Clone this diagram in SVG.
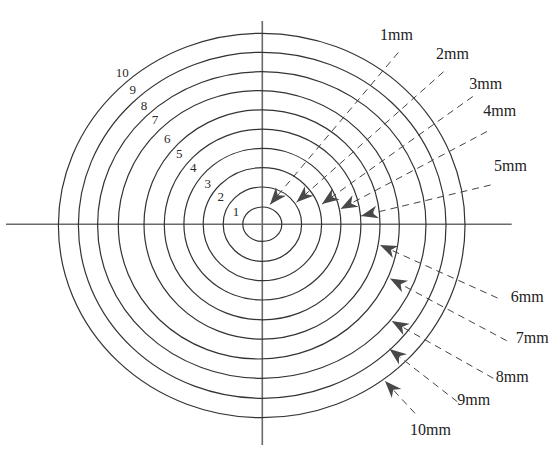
<svg xmlns="http://www.w3.org/2000/svg" width="552" height="452" viewBox="0 0 552 452">
<style>
.ring{fill:none;stroke:#333;stroke-width:1.2}
.axis{stroke:#6a6a6a;stroke-width:1.6}
.lead{stroke:#444;stroke-width:1;stroke-dasharray:7 5;fill:none}
.num{font-family:"Liberation Serif","Times New Roman",serif;font-size:13px;fill:#2a2a2a;text-anchor:middle}
.mm{font-family:"Liberation Serif","Times New Roman",serif;font-size:16px;fill:#222}
</style>
<defs>
<marker id="arr" markerUnits="userSpaceOnUse" markerWidth="22" markerHeight="16" viewBox="-18 -8 20 16" refX="0" refY="0" orient="auto">
<path d="M0,0 L-17,-6.5 L-12,0 L-17,6.5 Z" fill="#484848"/>
</marker>
</defs>
<rect width="552" height="452" fill="#fff"/>
<g id="axes">
<line class="axis" x1="262.3" y1="21" x2="262.3" y2="445"/>
<line class="axis" x1="6" y1="224.3" x2="511.7" y2="224.3"/>
</g>
<g id="rings">
<ellipse id="ring1" class="ring" cx="262.3" cy="224.2" rx="19.5" ry="17.2"/>
<ellipse id="ring2" class="ring" cx="262.4" cy="224.2" rx="39.2" ry="37.2"/>
<ellipse id="ring3" class="ring" cx="262.4" cy="224.2" rx="59.2" ry="56.5"/>
<ellipse id="ring4" class="ring" cx="262.4" cy="224.2" rx="78.5" ry="75.8"/>
<ellipse id="ring5" class="ring" cx="262.6" cy="224.5" rx="98.3" ry="95.3"/>
<ellipse id="ring6" class="ring" cx="262" cy="224.5" rx="118" ry="114.7"/>
<ellipse id="ring7" class="ring" cx="258.8" cy="224.8" rx="140.5" ry="134.2"/>
<ellipse id="ring8" class="ring" cx="261.8" cy="225" rx="164.2" ry="153.3"/>
<ellipse id="ring9" class="ring" cx="262.2" cy="225.3" rx="183.8" ry="173"/>
<ellipse id="ring10" class="ring" cx="261.7" cy="225.5" rx="203.3" ry="192.2"/>
</g>
<g id="ring-numbers">
<text class="num" x="122.3" y="76.8">10</text>
<text class="num" x="132.7" y="93.8">9</text>
<text class="num" x="144" y="110.3">8</text>
<text class="num" x="155" y="124.3">7</text>
<text class="num" x="167.3" y="143.3">6</text>
<text class="num" x="179.3" y="157.8">5</text>
<text class="num" x="193.3" y="171.8">4</text>
<text class="num" x="207.7" y="187.8">3</text>
<text class="num" x="220.7" y="201.3">2</text>
<text class="num" x="236" y="216.3">1</text>
</g>
<g id="connectors">
<line class="lead" marker-end="url(#arr)" x1="398.3" y1="52.5" x2="270" y2="204.5"/>
<line class="lead" marker-end="url(#arr)" x1="443.5" y1="71.8" x2="296.5" y2="202.3"/>
<line class="lead" marker-end="url(#arr)" x1="472.8" y1="96.5" x2="322" y2="204"/>
<line class="lead" marker-end="url(#arr)" x1="487" y1="131.5" x2="340.5" y2="209"/>
<line class="lead" marker-end="url(#arr)" x1="490.6" y1="185" x2="361" y2="216"/>
<line class="lead" marker-end="url(#arr)" x1="497.5" y1="298" x2="380" y2="245"/>
<line class="lead" marker-end="url(#arr)" x1="506.7" y1="340.7" x2="390" y2="278.5"/>
<line class="lead" marker-end="url(#arr)" x1="493.3" y1="378.3" x2="391.7" y2="321"/>
<line class="lead" marker-end="url(#arr)" x1="457.3" y1="401.7" x2="389.5" y2="349"/>
<line class="lead" marker-end="url(#arr)" x1="415" y1="413.3" x2="385" y2="381"/>
</g>
<g id="labels">
<text id="l1" class="mm" x="380" y="40">1mm</text>
<text id="l2" class="mm" x="436" y="59.3">2mm</text>
<text id="l3" class="mm" x="469.3" y="89.3">3mm</text>
<text id="l4" class="mm" x="483.3" y="116">4mm</text>
<text id="l5" class="mm" x="494" y="170.7">5mm</text>
<text id="l6" class="mm" x="510.7" y="301.7">6mm</text>
<text id="l7" class="mm" x="515.7" y="343.3">7mm</text>
<text id="l8" class="mm" x="495.7" y="381.7">8mm</text>
<text id="l9" class="mm" x="457.3" y="405">9mm</text>
<text id="l10" class="mm" x="410" y="435">10mm</text>
</g>
</svg>
